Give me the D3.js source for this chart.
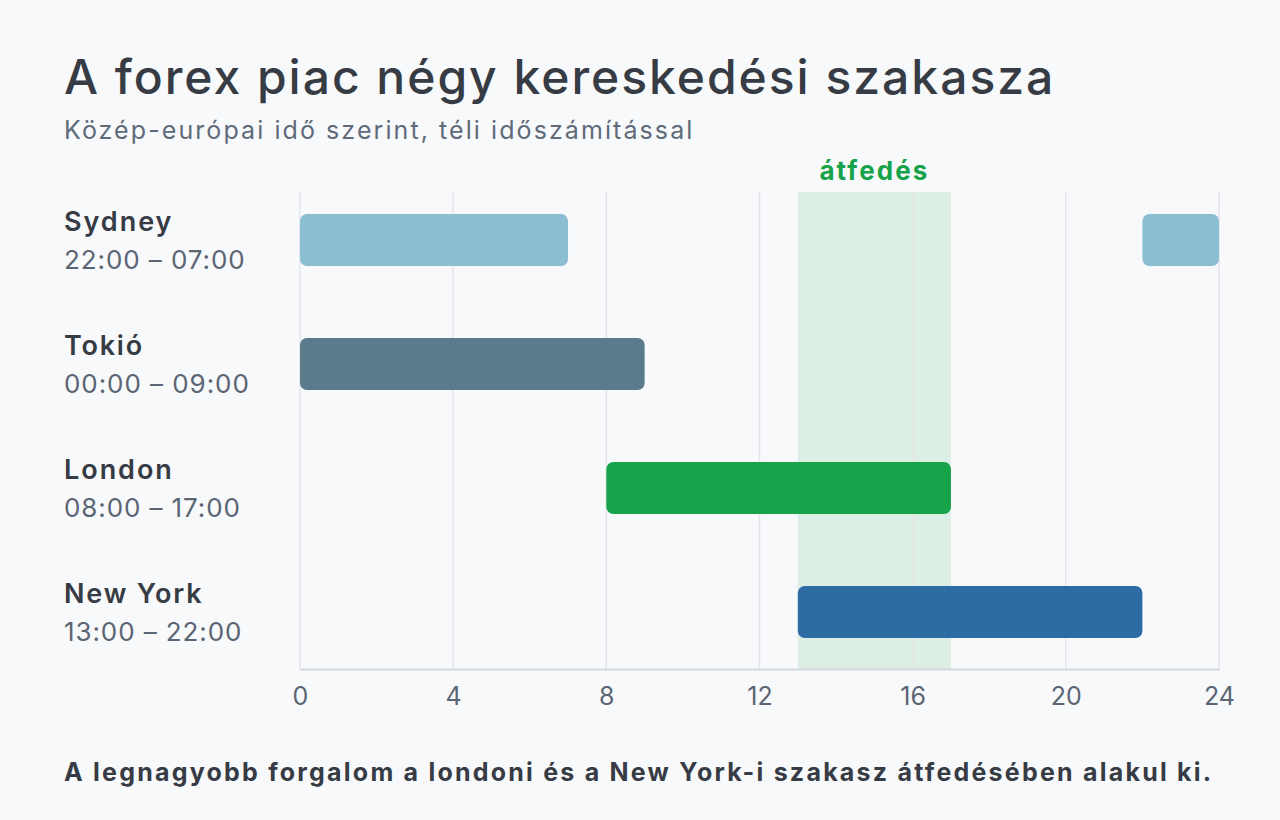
<!DOCTYPE html>
<html><head><meta charset="utf-8">
<script src="https://cdn.jsdelivr.net/npm/d3@7/dist/d3.min.js"></script>
<style>
html,body{margin:0;padding:0;background:#f8f9fb;}
svg{display:block;font-family:Inter,"Open Sans",sans-serif;}
</style></head><body>
<svg id="c" width="1280" height="820"></svg>
<script>
const markets = ["Sydney","Tokió","London","New York"];
const timeLabels = ["22:00 – 07:00","00:00 – 09:00","08:00 – 17:00","13:00 – 22:00"];
// segments [market, start hour, end hour]
const segments = [
  ["Sydney",0,7],["Sydney",22,24],
  ["Tokió",0,9],
  ["London",8,17],
  ["New York",13,22]
];
const colors = ["#8bbdd3","#5b7a8c","#17a34a","#2c6ca3"];
const overlap = [13,17];
const xTicks = [0,4,8,12,16,20,24];

const svg = d3.select("#c");
svg.append("rect").attr("width",1280).attr("height",820).attr("fill","#f8f9fb");

// widen text by letter spacing to approximate the reference's wide typeface
function widen(sel, factor){
  sel.each(function(){
    const n = this.getNumberOfChars();
    const w = this.getComputedTextLength();
    if(n>1) d3.select(this).attr("letter-spacing", (w*(factor-1))/(n-1));
  });
}

const x = d3.scaleLinear().domain([0,24]).range([300,1219]);
const y = d3.scaleBand().domain(markets).range([178,674]).paddingInner(0.58).paddingOuter(0.29);
const color = d3.scaleOrdinal().domain(markets).range(colors);
const gridTop = 192, gridBottom = 669;

// title
svg.append("text").attr("x",64).attr("y",94).attr("font-size",48).attr("font-weight",500)
  .attr("fill","#363b44").text("A forex piac négy kereskedési szakasza").call(widen,1.08);
svg.append("text").attr("x",64).attr("y",139).attr("font-size",25).attr("font-weight",400)
  .attr("fill","#5f6b7a").text("Közép-európai idő szerint, téli időszámítással").call(widen,1.175);

// overlap band
svg.append("rect").attr("x",x(overlap[0])).attr("y",gridTop)
  .attr("width",x(overlap[1])-x(overlap[0])).attr("height",gridBottom-gridTop)
  .attr("fill","#ddeee5");
svg.append("text").attr("x",x((overlap[0]+overlap[1])/2)).attr("y",180)
  .attr("text-anchor","middle").attr("font-size",26).attr("font-weight",700)
  .attr("fill","#17a34a").text("átfedés").call(widen,1.13);

// grid
svg.append("g").selectAll("line").data(xTicks).join("line")
  .attr("x1",d=>x(d)).attr("x2",d=>x(d)).attr("y1",gridTop).attr("y2",gridBottom)
  .attr("stroke","#e3e5e9").attr("stroke-width",1.5);

// axis
const axis = svg.append("g").attr("transform",`translate(0,${gridBottom})`)
  .call(d3.axisBottom(x).tickValues(xTicks).tickSize(0).tickPadding(18));
axis.select(".domain").attr("stroke","#d3d7dd").attr("stroke-width",2);
axis.selectAll("text").attr("font-size",25).attr("fill","#5b6573")
  .attr("font-family","Inter,'Open Sans',sans-serif");

// bars
svg.append("g").selectAll("rect").data(segments).join("rect")
  .attr("x",d=>x(d[1])).attr("width",d=>x(d[2])-x(d[1]))
  .attr("y",d=>y(d[0])).attr("height",y.bandwidth())
  .attr("rx",7).attr("fill",d=>color(d[0]));

// row labels
const lab = svg.append("g").selectAll("g").data(markets).join("g");
lab.append("text").attr("x",64).attr("y",d=>y(d)+y.bandwidth()/2-9)
  .attr("font-size",27).attr("font-weight",600).attr("fill","#363b44").text(d=>d).call(widen,1.1);
lab.append("text").attr("x",64).attr("y",(d,i)=>y(d)+y.bandwidth()/2+29)
  .attr("font-size",26).attr("font-weight",400).attr("fill","#5b6573").text((d,i)=>timeLabels[i]).call(widen,1.065);

// footer
svg.append("text").attr("x",64).attr("y",781).attr("font-size",25).attr("font-weight",700)
  .attr("fill","#363b44").text("A legnagyobb forgalom a londoni és a New York-i szakasz átfedésében alakul ki.").call(widen,1.175);
</script>
</body></html>
